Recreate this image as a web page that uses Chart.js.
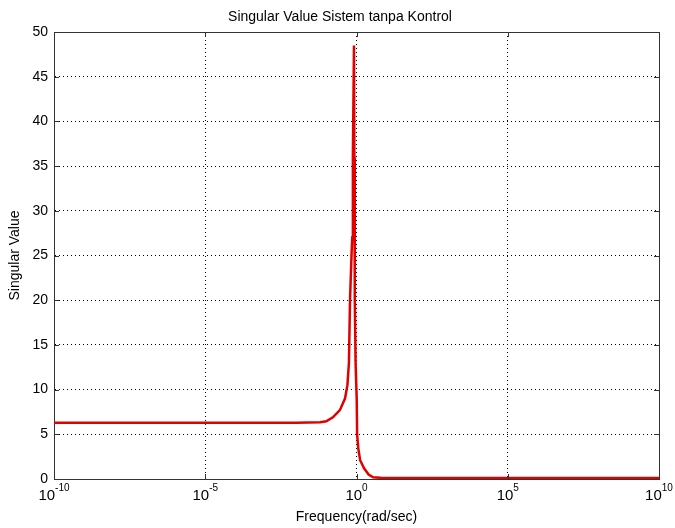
<!DOCTYPE html>
<html>
<head>
<meta charset="utf-8">
<script src="https://cdn.jsdelivr.net/npm/chart.js@4.4.1/dist/chart.umd.min.js"></script>
<style>
  html, body { margin: 0; padding: 0; background: #fff; }
  #wrap { width: 675px; height: 528px; }
</style>
</head>
<body>
<div id="wrap"><canvas id="svChart"></canvas></div>
<script>
// Frequency (rad/sec) and singular value
const freq = [1e-10, 1e-5, 0.01, 0.063, 0.1, 0.166, 0.282, 0.417, 0.501, 0.562,
    0.610, 0.692, 0.724, 0.759, 0.826, 0.851, 0.879, 0.933, 1.016, 1.047,
    1.148, 1.318, 1.778, 2.512, 3.548, 6.31, 10, 1e5, 1e10];
const singularValue = [6.3, 6.3, 6.3, 6.35, 6.45, 6.9, 7.7, 9.0, 10.5, 13,
    20, 25.5, 27, 36, 48.5, 36, 20, 13, 9, 5,
    3.4, 2.1, 1.2, 0.5, 0.2, 0.13, 0.12, 0.12, 0.12];

const xTicks = [1e-10, 1e-5, 1e0, 1e5, 1e10];
const xTickExp = ['-10', '-5', '0', '5', '10'];
const yTicks = [0, 5, 10, 15, 20, 25, 30, 35, 40, 45, 50];

const chartTitle = 'Singular Value Sistem tanpa Kontrol';
const xTitle = 'Frequency(rad/sec)';
const yTitle = 'Singular Value';

const FONT = '"Liberation Sans", Arial, sans-serif';

// MATLAB-like box, inward ticks and labels
const matlabAxes = {
    id: 'matlabAxes',
    afterDraw(chart) {
        const ctx = chart.ctx;
        const a = chart.chartArea;
        const xs = chart.scales.x;
        const ys = chart.scales.y;
        ctx.save();

        ctx.strokeStyle = '#333';
        ctx.lineWidth = 1;
        ctx.beginPath();
        ctx.moveTo(a.left, a.top + 0.5);
        ctx.lineTo(a.right + 0.5, a.top + 0.5);
        ctx.lineTo(a.right + 0.5, a.bottom);
        ctx.stroke();

        // inward ticks
        ctx.beginPath();
        xTicks.forEach(v => {
            const px = Math.round(xs.getPixelForValue(v)) + 0.5;
            ctx.moveTo(px, a.bottom); ctx.lineTo(px, a.bottom - 5);
            ctx.moveTo(px, a.top); ctx.lineTo(px, a.top + 5);
        });
        yTicks.forEach(v => {
            const py = Math.round(ys.getPixelForValue(v)) + 0.5;
            ctx.moveTo(a.left, py); ctx.lineTo(a.left + 5, py);
            ctx.moveTo(a.right, py); ctx.lineTo(a.right - 5, py);
        });
        ctx.stroke();

        ctx.fillStyle = '#000';

        // y tick labels
        ctx.font = '14px ' + FONT;
        ctx.textAlign = 'right';
        ctx.textBaseline = 'middle';
        yTicks.forEach(v => {
            ctx.fillText(String(v), a.left - 6, ys.getPixelForValue(v));
        });

        // x tick labels: 10 with superscript exponent
        xTicks.forEach((v, i) => {
            const px = xs.getPixelForValue(v);
            ctx.font = '15px ' + FONT;
            const wb = ctx.measureText('10').width;
            ctx.font = '10px ' + FONT;
            const we = ctx.measureText(xTickExp[i]).width;
            const x0 = px - (wb + we) / 2;
            ctx.textAlign = 'left';
            ctx.textBaseline = 'middle';
            ctx.font = '15px ' + FONT;
            ctx.fillText('10', x0, a.bottom + 17);
            ctx.font = '10px ' + FONT;
            ctx.fillText(xTickExp[i], x0 + wb, a.bottom + 9);
        });

        // titles
        ctx.font = '14px ' + FONT;
        ctx.textAlign = 'center';
        ctx.textBaseline = 'alphabetic';
        ctx.fillText(chartTitle, 340, 21);
        ctx.textBaseline = 'middle';
        ctx.fillText(xTitle, (a.left + a.right) / 2, 517);
        ctx.translate(15, (a.top + a.bottom) / 2);
        ctx.rotate(-Math.PI / 2);
        ctx.fillText(yTitle, 0, 0);

        ctx.restore();
    }
};

new Chart(document.getElementById('svChart'), {
    type: 'line',
    data: {
        datasets: [{
            data: freq.map((f, i) => ({ x: f, y: singularValue[i] })),
            borderColor: '#e00000',
            borderWidth: 2.5,
            pointRadius: 0,
            tension: 0,
            fill: false
        }]
    },
    options: {
        responsive: true,
        maintainAspectRatio: false,
        animation: false,
        layout: { padding: { left: 54, top: 32, right: 16, bottom: 49 } },
        plugins: {
            legend: { display: false },
            tooltip: { enabled: false }
        },
        scales: {
            x: {
                type: 'logarithmic',
                min: 1e-10,
                max: 1e10,
                afterBuildTicks: s => { s.ticks = xTicks.map(v => ({ value: v })); },
                afterFit: s => { s.height = 0; },
                ticks: { display: false },
                grid: { color: '#000', lineWidth: 1, drawTicks: false },
                border: { color: '#333', width: 1, dash: [1, 3] }
            },
            y: {
                min: 0,
                max: 50,
                afterBuildTicks: s => { s.ticks = yTicks.map(v => ({ value: v })); },
                afterFit: s => { s.width = 0; },
                ticks: { display: false },
                grid: { color: '#000', lineWidth: 1, drawTicks: false },
                border: { color: '#333', width: 1, dash: [1, 3] }
            }
        }
    },
    plugins: [matlabAxes]
});
</script>
</body>
</html>
